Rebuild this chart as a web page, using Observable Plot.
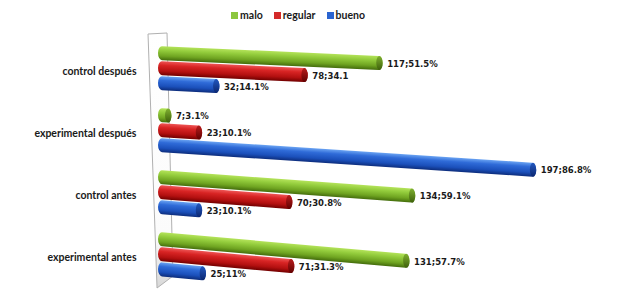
<!DOCTYPE html>
<html><head><meta charset="utf-8">
<script src="https://cdn.jsdelivr.net/npm/d3@7"></script>
<script src="https://cdn.jsdelivr.net/npm/@observablehq/plot@0.6"></script>
<style>
body{margin:0;background:#fff;}
#legend{height:28px;width:627px;display:flex;justify-content:center;align-items:center;padding-right:31px;padding-top:2px;box-sizing:border-box;font:bold 10.5px Lato, sans-serif;color:#1a1a1a;}
.item{display:flex;align-items:center;margin:0 5.5px;}
.sw{width:7px;height:7px;margin-right:2px;}
</style></head><body>
<div id="legend"></div>
<div id="chart"></div>
<svg width="0" height="0" style="position:absolute">
<defs>
<linearGradient id="grad-malo" x1="0" y1="0" x2="0" y2="1">
<stop offset="0" stop-color="#b4e35a"/><stop offset="0.3" stop-color="#93cc3c"/><stop offset="0.7" stop-color="#6fa421"/><stop offset="1" stop-color="#446d0c"/>
</linearGradient>
<linearGradient id="grad-regular" x1="0" y1="0" x2="0" y2="1">
<stop offset="0" stop-color="#ee5555"/><stop offset="0.3" stop-color="#d82424"/><stop offset="0.7" stop-color="#b31010"/><stop offset="1" stop-color="#720000"/>
</linearGradient>
<linearGradient id="grad-bueno" x1="0" y1="0" x2="0" y2="1">
<stop offset="0" stop-color="#6aa3f2"/><stop offset="0.3" stop-color="#2f6bd8"/><stop offset="0.7" stop-color="#1b50bb"/><stop offset="1" stop-color="#0d2d7c"/>
</linearGradient>
<linearGradient id="grad-malo-cap" x1="0" y1="0" x2="0" y2="1">
<stop offset="0" stop-color="#7fb030"/><stop offset="1" stop-color="#3d600a"/>
</linearGradient>
<linearGradient id="grad-regular-cap" x1="0" y1="0" x2="0" y2="1">
<stop offset="0" stop-color="#b81c1c"/><stop offset="1" stop-color="#600000"/>
</linearGradient>
<linearGradient id="grad-bueno-cap" x1="0" y1="0" x2="0" y2="1">
<stop offset="0" stop-color="#2258c0"/><stop offset="1" stop-color="#0b2670"/>
</linearGradient>
<linearGradient id="grad-wall" x1="0" y1="0" x2="0" y2="1">
<stop offset="0" stop-color="#ffffff"/><stop offset="0.8" stop-color="#fbfbfb"/><stop offset="1" stop-color="#d8d8d8"/>
</linearGradient>
</defs></svg>
<script>
const groups = ["control después", "experimental después", "control antes", "experimental antes"];
const series = ["malo", "regular", "bueno"];
const malo = [117, 7, 134, 131];
const regular = [78, 23, 70, 71];
const bueno = [32, 197, 23, 25];
const maloLabels = ["117;51.5%", "7;3.1%", "134;59.1%", "131;57.7%"];
const regularLabels = ["78;34.1", "23;10.1%", "70;30.8%", "71;31.3%"];
const buenoLabels = ["32;14.1%", "197;86.8%", "23;10.1%", "25;11%"];
const swatchColors = ["#8cc63f", "#d42a2a", "#2a64d0"];

const valuesBySeries = {malo, regular, bueno};
const labelsBySeries = {malo: maloLabels, regular: regularLabels, bueno: buenoLabels};
const rows = [];
groups.forEach((g, i) => series.forEach(s => rows.push({group: g, series: s, value: valuesBySeries[s][i], label: labelsBySeries[s][i]})));

// legend
const legendEl = document.getElementById("legend");
series.forEach((s, i) => {
  const it = document.createElement("div"); it.className = "item";
  const sw = document.createElement("div"); sw.className = "sw";
  sw.style.background = swatchColors[i];
  it.appendChild(sw);
  const t = document.createElement("span"); t.textContent = s; it.appendChild(t);
  legendEl.appendChild(it);
});

const plot = Plot.plot({
  width: 627, height: 266,
  marginLeft: 158, marginRight: 85, marginTop: 10, marginBottom: 8,
  style: {fontFamily: "Lato, sans-serif", fontSize: "10.5px", fontWeight: "bold", color: "#1a1a1a", background: "transparent"},
  x: {domain: [0, 200], axis: null},
  y: {domain: series, axis: null, paddingInner: 0.05, paddingOuter: 0},
  fy: {domain: groups, paddingInner: 0.27, paddingOuter: 0.135, label: null},
  color: {domain: series, range: series.map(s => `url(#grad-${s})`)},
  marks: [
    Plot.axisFy({anchor: "left", tickSize: 0, tickPadding: 22, label: null, dy: 3}),
    Plot.barX(rows, {x: "value", y: "series", fy: "group", fill: "series", rx: 4, ry: 7}),
    Plot.text(rows, {x: "value", y: "series", fy: "group", text: "label", dx: 4, textAnchor: "start",
      fontFamily: "DejaVu Sans", fontWeight: "bold", fontSize: 8.5, fill: "#1a1a1a"})
  ]
});
document.getElementById("chart").appendChild(plot);

// 3D wall (decoration) positioned with the x scale
const xs = plot.scale("x");
const svg = d3.select(plot);
const plotTop = 10, plotBottom = 266 - 8;
const wallPts = [[xs.apply(-5.2), plotTop - 4], [xs.apply(4.7), plotTop - 5], [xs.apply(7.8), plotBottom - 10], [xs.apply(-0.5), plotBottom + 2]];
svg.insert("polygon", ":first-child").attr("points", wallPts.map(p => p.join(",")).join(" "))
  .attr("fill", "url(#grad-wall)").attr("stroke", "#b0b0b0").attr("stroke-width", 1);

// perspective: bars slope down to the right; add a darker end cap
const x0 = xs.apply(0);
const slope = y => 0.045 + (y - 26) * 0.00023;
const svgBox = plot.getBoundingClientRect();
svg.selectAll("g[aria-label='bar'] rect").each(function() {
  const r = this.getBoundingClientRect();
  const yAbs = r.top - svgBox.top + r.height / 2;
  const yv = +this.getAttribute("y"), h = +this.getAttribute("height");
  const xv = +this.getAttribute("x"), w = +this.getAttribute("width");
  const yLoc = yv + h / 2;
  const s = slope(yAbs);
  const tf = `translate(${x0},${yLoc}) matrix(1,${s},0,1,0,0) translate(${-x0},${-yLoc})`;
  this.setAttribute("transform", tf);
  const fill = this.getAttribute("fill") || "";
  const capFill = fill.replace(/\)$/, "-cap)");
  const cap = document.createElementNS("http://www.w3.org/2000/svg", "ellipse");
  cap.setAttribute("cx", xv + w - 3.2);
  cap.setAttribute("cy", yLoc);
  cap.setAttribute("rx", 3.2);
  cap.setAttribute("ry", h / 2);
  cap.setAttribute("fill", capFill);
  cap.setAttribute("transform", tf);
  this.parentNode.insertBefore(cap, this.nextSibling);
});
svg.selectAll("g[aria-label='text'] text").each(function() {
  const r = this.getBoundingClientRect();
  const yAbs = r.top - svgBox.top + r.height / 2;
  const xl = r.left - svgBox.left;
  const dy = slope(yAbs) * (xl - x0);
  const prev = this.getAttribute("transform") || "";
  this.setAttribute("transform", `translate(0,${dy}) ${prev}`);
});
</script>
</body></html>
